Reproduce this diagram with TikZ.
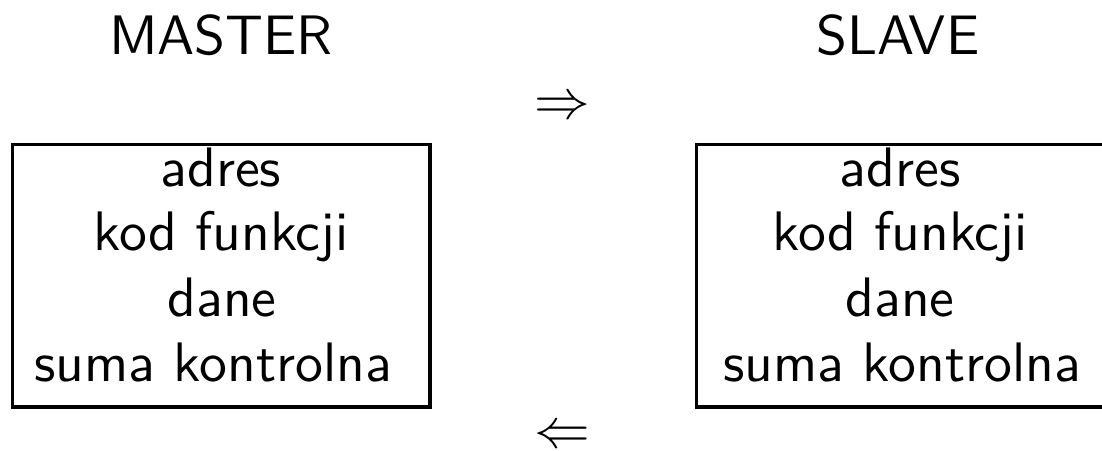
\documentclass[tikz,border=0pt]{standalone}
\tikzset{
  lbl/.style={font=\sffamily, inner sep=0pt, anchor=base},
  arr/.style={inner sep=0pt},
  frame/.style={line width=0.55pt}
}
\begin{document}
\begin{tikzpicture}[x=0.1797pt,y=-0.1797pt]
\useasboundingbox (0,0) rectangle (1102,451);
% titles
\node[lbl] (master) at (221,55) {MASTER};
\node[lbl] (slave) at (898,55) {SLAVE};
% arrows
\node[arr] (ra) at (562,108) {$\Rightarrow$};
\node[arr] (la) at (562,437) {$\Leftarrow$};
% left box
\coordinate (m1) at (12.5,144.5);
\coordinate (m2) at (430,407);
\draw[frame] (m1) rectangle (m2);
\node[lbl] (ma) at (221,187) {adres};
\node[lbl] (mk) at (221,251) {kod funkcji};
\node[lbl] (md) at (222,317) {dane};
\node[lbl] (ms) at (213,382) {suma kontrolna};
% right box
\coordinate (s1) at (696.5,144.5);
\coordinate (s2) at (1114,407);
\draw[frame] (s1) rectangle (s2);
\node[lbl] (sa) at (900,187) {adres};
\node[lbl] (sk) at (900,251) {kod funkcji};
\node[lbl] (sd) at (900,317) {dane};
\node[lbl] (ss) at (902,382) {suma kontrolna};
\end{tikzpicture}
\end{document}
